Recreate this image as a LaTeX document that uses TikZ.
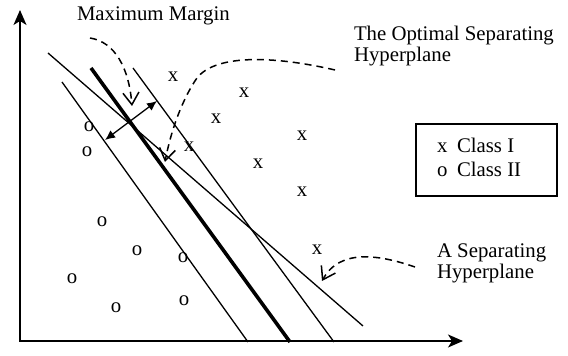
\documentclass[tikz,border=0pt]{standalone}
\usepackage{fontspec}
\setmainfont{Liberation Serif}
\usetikzlibrary{arrows.meta}
\begin{document}
\begin{tikzpicture}[x=0.5pt,y=-0.5pt,
  every node/.style={font=\fontsize{10.4}{10.5}\selectfont, inner sep=0pt, outer sep=0pt},
  lbl/.style={anchor=base west, align=left},
  pnt/.style={anchor=center},
  thinln/.style={line width=0.65pt},
  thickln/.style={line width=1.8pt},
  axis/.style={line width=0.7pt, -{Stealth[length=7.5pt,width=6.5pt,inset=2pt]}},
  dbl/.style={line width=0.65pt, {Latex[length=5pt,width=4.5pt]}-{Latex[length=5pt,width=4.5pt]}},
  pointer/.style={line width=0.75pt, dash pattern=on 3.5pt off 2.5pt, -{Straight Barb[length=6pt,width=8pt,line width=0.75pt]}}
]
\useasboundingbox (0,0) rectangle (568,356);
% axes
\coordinate (O) at (20,341);
\coordinate (ytip) at (20,10);
\coordinate (xstart) at (19,341);
\coordinate (xtip) at (463,341);
\draw[axis] (O) -- (ytip);
\draw[axis] (xstart) -- (xtip);
% hyperplanes
\coordinate (s1) at (48,53);   \coordinate (s2) at (363,326);
\coordinate (l1) at (62,82);   \coordinate (l2) at (248,342);
\coordinate (h1) at (91,68);   \coordinate (h2) at (290,342);
\coordinate (r1) at (133,68);  \coordinate (r2) at (334,342);
\draw[thinln] (s1) -- (s2);
\draw[thinln] (l1) -- (l2);
\draw[thickln] (h1) -- (h2);
\draw[thinln] (r1) -- (r2);
% margin arrow
\coordinate (ma) at (157,101);
\coordinate (mb) at (105,140);
\draw[dbl] (mb) -- (ma);
% labels
\node[lbl] (mm) at (77,21) {Maximum Margin};
\node[lbl] (osh) at (354,62) {The Optimal Separating\\Hyperplane};
\node[lbl] (ash) at (437,279) {A Separating\\Hyperplane};
% pointers
\coordinate (mm0) at (90,38);  \coordinate (mm1) at (132,106);
\draw[pointer] (mm0) .. controls (115,42) and (129,68) .. (mm1);
\coordinate (os0) at (335,70); \coordinate (osm) at (197,78); \coordinate (os1) at (165,162);
\draw[pointer] (os0) .. controls (270,55) and (215,55) .. (osm) .. controls (185,95) and (172,125) .. (os1);
\coordinate (as0) at (415,267); \coordinate (as1) at (322,281);
\draw[pointer] (as0) .. controls (380,255) and (340,248) .. (as1);
% class I points
\foreach \n/\px/\py in {1/173/77, 2/244/93, 3/216/119, 4/302/136, 5/189/147, 6/258/164, 7/302/192, 8/317/250}
  \node[pnt] (x\n) at (\px,\py) {x};
% class II points
\foreach \n/\px/\py in {1/89/127, 2/87/152, 3/102/222, 4/137/251, 5/183/258, 6/72/279, 7/116/308, 8/184/301}
  \node[pnt] (o\n) at (\px,\py) {o};
% legend
\node[draw, line width=0.75pt, anchor=north west, minimum width=70.5pt, minimum height=36pt] (legend) at (416,124) {};
\node[lbl] (lx) at (437,153) {x};
\node[lbl] (lxt) at (457,153) {Class I};
\node[lbl] (lo) at (437,177) {o};
\node[lbl] (lot) at (457,177) {Class II};
\end{tikzpicture}
\end{document}
